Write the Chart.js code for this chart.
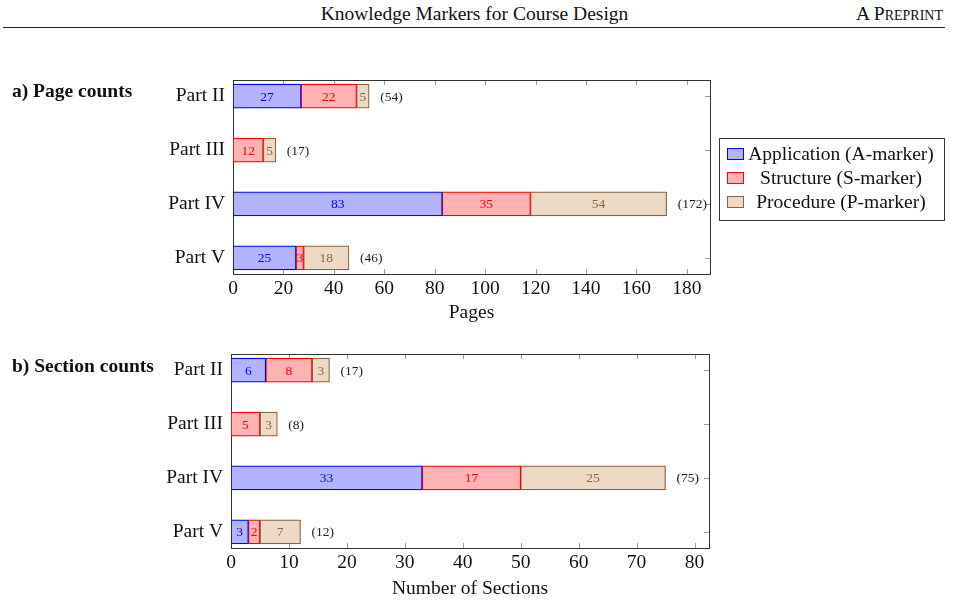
<!DOCTYPE html>
<html>
<head>
<meta charset="utf-8">
<script src="https://cdn.jsdelivr.net/npm/chart.js@4/dist/chart.umd.min.js"></script>
<style>
  body { margin: 0; background: #fff; font-family: 'Liberation Serif', serif; color: #111; }
  #page { position: relative; width: 953px; height: 603px; overflow: hidden; }
  .abs { position: absolute; white-space: nowrap; }
  #head { left: 0; width: 949px; top: 2px; font-size: 19.5px; line-height: 24px; text-align: center; }
  #preprint { right: 10px; top: 2px; font-size: 19.5px; line-height: 24px; font-variant: small-caps; }
  #rule { left: 3px; top: 27px; width: 942px; height: 1px; background: #222; }
  .tag { left: 12px; font-size: 19.5px; font-weight: bold; line-height: 24px; }
  #legend { left: 719px; top: 138px; width: 224px; height: 78px; border: 1px solid #333; padding-top: 3px; box-sizing: content-box; }
  .row { display: flex; align-items: center; height: 24px; font-size: 19.5px; }
  .sw { width: 15px; height: 10px; margin-left: 7px; border: 1px solid; flex: none; }
  .lt { flex: 1; text-align: center; padding-right: 6px; }
  canvas { position: absolute; left: 0; }
</style>
</head>
<body>
<div id="page">
  <div class="abs" id="head">Knowledge Markers for Course Design</div>
  <div class="abs" id="preprint">A Preprint</div>
  <div class="abs" id="rule"></div>

  <canvas id="pagesChart" width="720" height="262" style="top:70px"></canvas>
  <canvas id="sectionsChart" width="720" height="259" style="top:344px"></canvas>

  <div class="abs tag" style="top:79px">a) Page counts</div>
  <div class="abs tag" style="top:354px">b) Section counts</div>
  <div class="abs" id="legend"></div>
</div>

<script>
// categories and series
const parts = ['Part II', 'Part III', 'Part IV', 'Part V'];
const seriesNames = ['Application (A-marker)', 'Structure (S-marker)', 'Procedure (P-marker)'];

const pageApp = [27, 0, 83, 25];
const pageStr = [22, 12, 35, 3];
const pageProc = [5, 5, 54, 18];

const secApp = [6, 0, 33, 3];
const secStr = [8, 5, 17, 2];
const secProc = [3, 3, 25, 7];

// axis ranges / tick steps
const pagesMax = 189.2;
const pagesStep = 20;
const sectionsMax = 82.5;
const sectionsStep = 10;

const fills = ['rgb(179,179,255)', 'rgb(255,179,179)', 'rgb(236,218,198)'];
const borders = ['rgb(0,0,255)', 'rgb(255,0,0)', 'rgb(140,100,60)'];
const textColors = ['rgb(0,0,255)', 'rgb(255,0,0)', 'rgb(140,105,70)'];
const serif = "'Liberation Serif', 'Times New Roman', serif";

// legend (html)
const legendEl = document.getElementById('legend');
seriesNames.forEach(function(name, i) {
	const row = document.createElement('div');
	row.className = 'row';
	row.innerHTML = '<span class="sw" style="background:' + fills[i] + ';border-color:' + borders[i] + '"></span><span class="lt">' + name + '</span>';
	legendEl.appendChild(row);
});

// box + inward tick marks, drawn under the bars
const frame = {
	id: 'frame',
	beforeDatasetsDraw(chart) {
		const ctx = chart.ctx;
		const a = chart.chartArea;
		const x = chart.scales.x, y = chart.scales.y;
		ctx.save();
		ctx.lineWidth = 1;
		ctx.strokeStyle = '#9a9a9a';
		ctx.beginPath();
		x.ticks.forEach(function(t) {
			const px = Math.round(x.getPixelForValue(t.value)) + 0.5;
			ctx.moveTo(px, a.top); ctx.lineTo(px, a.top + 5);
			ctx.moveTo(px, a.bottom); ctx.lineTo(px, a.bottom - 5);
		});
		y.ticks.forEach(function(t) {
			const py = Math.round(y.getPixelForValue(t.value)) + 0.5;
			ctx.moveTo(a.left, py); ctx.lineTo(a.left + 5, py);
			ctx.moveTo(a.right, py); ctx.lineTo(a.right - 5, py);
		});
		ctx.stroke();
		ctx.strokeStyle = '#333';
		ctx.strokeRect(Math.round(a.left) + 0.5, Math.round(a.top) + 0.5,
			Math.round(a.right - a.left), Math.round(a.bottom - a.top));
		ctx.restore();
	}
};

// values inside bars + totals at bar end
const barLabels = {
	id: 'barLabels',
	afterDatasetsDraw(chart) {
		const ctx = chart.ctx;
		ctx.save();
		ctx.font = '13.5px ' + serif;
		ctx.textBaseline = 'middle';
		ctx.textAlign = 'center';
		const totals = parts.map(function() { return 0; });
		chart.data.datasets.forEach(function(ds, di) {
			const meta = chart.getDatasetMeta(di);
			meta.data.forEach(function(bar, i) {
				const v = ds.data[i].x;
				if (!v) return;
				totals[i] += v;
				const p = bar.getProps(['x', 'y', 'base'], true);
				ctx.fillStyle = ds.labelColor;
				ctx.fillText(String(v), (p.x + p.base) / 2, p.y + 1);
			});
		});
		ctx.textAlign = 'left';
		ctx.fillStyle = '#222';
		totals.forEach(function(t, i) {
			const px = chart.scales.x.getPixelForValue(t) + 11;
			const py = chart.scales.y.getPixelForValue(i);
			ctx.fillText('(' + t + ')', px, py + 1);
		});
		ctx.restore();
	}
};

function makeDatasets(app, str, proc) {
	return [app, str, proc].map(function(vals, k) {
		return {
			label: seriesNames[k],
			data: vals.map(function(v, i) { return { x: v || null, y: i }; }),
			backgroundColor: fills[k],
			borderColor: borders[k],
			borderWidth: 1.2,
			borderSkipped: false,
			barThickness: 24,
			labelColor: textColors[k]
		};
	});
}

function initChart(id, datasets, xMax, step, title, area) {
	const ctx = document.getElementById(id).getContext('2d');
	return new Chart(ctx, {
		type: 'bar',
		data: { datasets: datasets },
		options: {
			indexAxis: 'y',
			responsive: false,
			animation: false,
			devicePixelRatio: 1,
			layout: { autoPadding: false, padding: { top: area.top, right: area.right, left: 0, bottom: 0 } },
			scales: {
				x: {
					type: 'linear',
					stacked: true,
					min: 0,
					max: xMax,
					grid: { display: false, drawTicks: false },
					border: { display: false },
					ticks: {
						stepSize: step,
						includeBounds: false,
						maxRotation: 0,
						padding: 3,
						color: '#111',
						font: { family: serif, size: 19.5 }
					},
					title: {
						display: true,
						text: title,
						color: '#111',
						font: { family: serif, size: 19.5 },
						padding: { top: 0, bottom: area.titlePad }
					},
					afterFit: function(scale) { scale.height = area.xHeight; }
				},
				y: {
					type: 'linear',
					stacked: true,
					reverse: true,
					offset: false,
					min: -0.3,
					max: parts.length - 0.7,
					grid: { display: false, drawTicks: false, offset: false },
					border: { display: false },
					ticks: {
						stepSize: 1,
						includeBounds: false,
						autoSkip: false,
						padding: 8,
						color: '#111',
						font: { family: serif, size: 19.5, lineHeight: 0.1 },
						callback: function(v) { return parts[v] !== undefined ? parts[v] : ''; }
					},
					afterFit: function(scale) {
						scale.width = area.left;
						scale.paddingTop = 0;
						scale.paddingBottom = 0;
					}
				}
			},
			plugins: {
				legend: { display: false },
				tooltip: { enabled: false }
			}
		},
		plugins: [frame, barLabels]
	});
}

document.addEventListener('DOMContentLoaded', function() {
	initChart('pagesChart', makeDatasets(pageApp, pageStr, pageProc), pagesMax, pagesStep, 'Pages',
		{ top: 10, right: 10, left: 233, xHeight: 58, titlePad: 7 });
	initChart('sectionsChart', makeDatasets(secApp, secStr, secProc), sectionsMax, sectionsStep, 'Number of Sections',
		{ top: 10, right: 11, left: 231, xHeight: 55, titlePad: 2 });
});
</script>
</body>
</html>
